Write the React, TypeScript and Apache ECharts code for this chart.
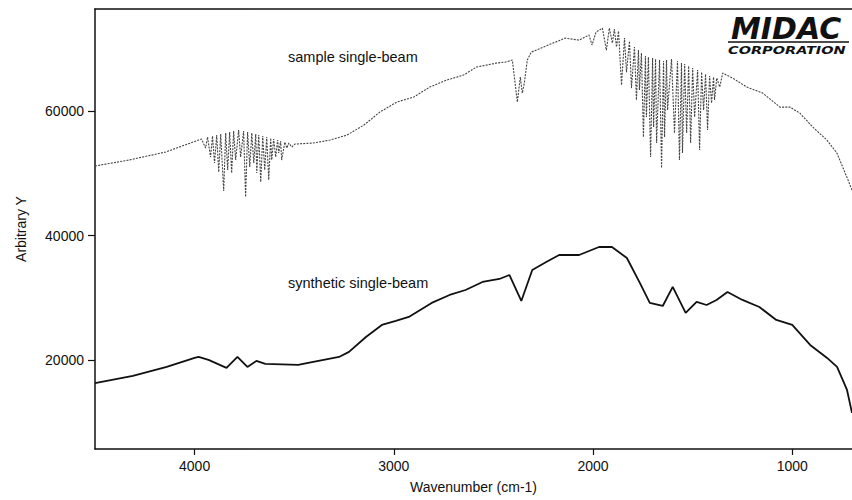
import React, { useEffect, useRef } from "react";
import * as echarts from "echarts";

// Sample single-beam spectrum (wavenumber, signal)
const sampleWavenumber = [
  4500, 4330, 4145, 3980,
  3965, 3945, 3935, 3920, 3910, 3900, 3889, 3879, 3869, 3854, 3844, 3834, 3824, 3814, 3804, 3794,
  3779, 3769, 3754, 3744, 3734, 3723, 3713, 3703, 3693, 3688, 3678, 3668, 3658, 3648, 3638, 3628,
  3618, 3613, 3603, 3593, 3583, 3578, 3568, 3563, 3547, 3537, 3527, 3512, 3497,
  3405, 3320, 3235, 3150, 3070, 2985, 2900, 2820, 2735, 2650, 2585, 2485, 2440, 2405,
  2380, 2365, 2355, 2345, 2330, 2310, 2225, 2140, 2070, 2020, 2005, 1985, 1968,
  1953, 1933, 1918, 1903, 1893, 1882, 1872, 1857, 1842, 1832, 1817, 1807, 1792, 1782, 1772, 1767,
  1757, 1747, 1737, 1732, 1722, 1711, 1701, 1696, 1686, 1681, 1666, 1656, 1646, 1641, 1631, 1626,
  1606, 1591, 1576, 1566, 1556, 1551, 1540, 1530, 1520, 1510, 1500, 1490, 1475, 1465, 1455, 1445,
  1435, 1425, 1415, 1405, 1395, 1390, 1379, 1364, 1349,
  1299, 1228, 1148, 1062, 1012, 962, 897, 826, 776, 726, 700,
];
const sampleSignal = [
  51170, 52130, 53420, 55340,
  55500, 54060, 55825, 52610, 55985, 51650, 56146, 50200, 56307, 47150, 56467, 50525, 56628, 50040, 56788, 52130,
  56950, 52610, 56788, 46190, 56628, 51010, 56467, 51650, 56307, 50040, 56146, 48600, 55985, 50525, 55825, 48920,
  55664, 52130, 55504, 52610, 55343, 53255, 55182, 52130, 55022, 54060, 54861, 54220, 54700,
  54860, 55340, 56150, 57750, 59840, 61450, 62250, 63850, 64980, 65780, 67070, 67710, 67870, 68190,
  61450, 65460, 62890, 64500, 68190, 69480, 70600, 71720, 71400, 72210, 70600, 72690, 73010,
  73330, 69800, 73330, 70920, 73170, 70280, 72850, 64180, 71720, 66260, 71240, 63690, 70280, 61770, 69800, 63370,
  69320, 55830, 68830, 59040, 68670, 52610, 68510, 57430, 68350, 54860, 68190, 50850, 68030, 55830, 68190, 60160,
  68350, 56470, 68030, 52130, 67710, 53260, 67550, 56470, 67230, 54860, 66910, 59040, 66590, 53740, 66260, 60160,
  65940, 56950, 65620, 61290, 65460, 61770, 65300, 63860, 66100,
  65300, 63850, 62890, 60640, 60640, 59680, 57430, 55340, 53260, 49400, 47310,
];

// Synthetic single-beam spectrum
const syntheticWavenumber = [
  4500, 4310, 4140, 4000, 3980, 3930, 3840, 3785, 3735, 3690, 3645, 3480, 3430, 3275, 3225, 3140,
  3060, 2990, 2925, 2810, 2720, 2640, 2555, 2470, 2420, 2360, 2305, 2235, 2170, 2070, 1970, 1905,
  1830, 1765, 1715, 1650, 1600, 1535, 1480, 1430, 1380, 1325, 1250, 1165, 1080, 1000, 910, 825,
  775, 725, 700,
];
const syntheticSignal = [
  16300, 17440, 18890, 20330, 20490, 20010, 18730, 20490, 18890, 19850, 19370, 19210, 19530, 20490, 21300, 23700,
  25630, 26270, 26920, 29170, 30450, 31250, 32540, 33020, 33660, 29490, 34470, 35750, 36870, 36870, 38160, 38160,
  36390, 32380, 29170, 28680, 31740, 27560, 29330, 28840, 29650, 30930, 29650, 28520, 26440, 25630, 22420, 20330,
  18890, 15190, 11500,
];

const xTickValues = [4000, 3000, 2000, 1000];
const yTickValues = [20000, 40000, 60000];
const xRange = [700, 4500];
const yRange = [5700, 76400];
const seriesLabels = ["sample single-beam", "synthetic single-beam"];

const FONT = "'Liberation Sans', Arial, sans-serif";

export default function App() {
  const ref = useRef<HTMLDivElement>(null);
  useEffect(() => {
    const chart = echarts.init(ref.current!, null, { renderer: "svg" });
    const sampleData = sampleWavenumber.map((w, i) => [w, sampleSignal[i]]);
    const syntheticData = syntheticWavenumber.map((w, i) => [w, syntheticSignal[i]]);
    const plain = (v: number) => String(v);
    chart.setOption({
      animation: false,
      backgroundColor: "#ffffff",
      grid: { left: 95, right: 0, top: 9, bottom: 51 },
      xAxis: [
        {
          type: "value",
          min: xRange[0],
          max: xRange[1],
          inverse: true,
          name: "Wavenumber (cm-1)",
          nameLocation: "middle",
          nameGap: 31,
          nameTextStyle: { color: "#111", fontSize: 14, fontFamily: FONT },
          axisLine: { show: true, onZero: false, lineStyle: { color: "#111", width: 1.5 } },
          axisTick: { show: true, length: 6, customValues: xTickValues, lineStyle: { color: "#111", width: 1.2 } },
          axisLabel: { customValues: xTickValues, formatter: plain, margin: 10, color: "#111", fontSize: 14, fontFamily: FONT },
          splitLine: { show: false },
        },
        {
          type: "value",
          position: "top",
          min: xRange[0],
          max: xRange[1],
          inverse: true,
          axisLine: { show: true, onZero: false, lineStyle: { color: "#111", width: 1.5 } },
          axisTick: { show: false },
          axisLabel: { show: false },
          splitLine: { show: false },
        },
      ],
      yAxis: {
        type: "value",
        min: yRange[0],
        max: yRange[1],
        name: "Arbitrary Y",
        nameLocation: "middle",
        nameGap: 67,
        nameTextStyle: { color: "#111", fontSize: 14, fontFamily: FONT },
        axisLine: { show: true, onZero: false, lineStyle: { color: "#111", width: 1.5 } },
        axisTick: { show: true, length: 7, customValues: yTickValues, lineStyle: { color: "#111", width: 1.2 } },
        axisLabel: { customValues: yTickValues, formatter: plain, margin: 11, color: "#111", fontSize: 14, fontFamily: FONT },
        splitLine: { show: false },
      },
      series: [
        {
          name: seriesLabels[0],
          type: "line",
          data: sampleData,
          showSymbol: false,
          symbol: "none",
          lineStyle: { color: "#444", width: 1.1, type: [2, 1.2] },
        },
        {
          name: seriesLabels[1],
          type: "line",
          data: syntheticData,
          showSymbol: false,
          symbol: "none",
          lineStyle: { color: "#111", width: 1.8 },
        },
      ],
      graphic: [
        {
          type: "text",
          x: 288,
          y: 57,
          style: { text: seriesLabels[0], fill: "#111", font: `14.5px ${FONT}`, textVerticalAlign: "middle", textAlign: "left" },
        },
        {
          type: "text",
          x: 288,
          y: 283,
          style: { text: seriesLabels[1], fill: "#111", font: `14.5px ${FONT}`, textVerticalAlign: "middle", textAlign: "left" },
        },
        {
          type: "text",
          x: 731,
          y: 28,
          style: { text: "MIDAC", fill: "#111", font: `italic bold 30px 'DejaVu Sans', sans-serif`, textVerticalAlign: "middle", textAlign: "left" },
        },
        {
          type: "line",
          shape: { x1: 728, y1: 42, x2: 849, y2: 42 },
          style: { stroke: "#111", lineWidth: 1.5 },
        },
        {
          type: "text",
          x: 728,
          y: 50,
          scaleX: 1.45,
          style: { text: "CORPORATION", fill: "#111", font: `italic bold 10px 'DejaVu Sans', sans-serif`, textVerticalAlign: "middle", textAlign: "left" },
        },
      ],
    });
    return () => chart.dispose();
  }, []);
  return <div ref={ref} style={{ position: "fixed", left: 0, top: 0, width: 852, height: 500 }} />;
}
